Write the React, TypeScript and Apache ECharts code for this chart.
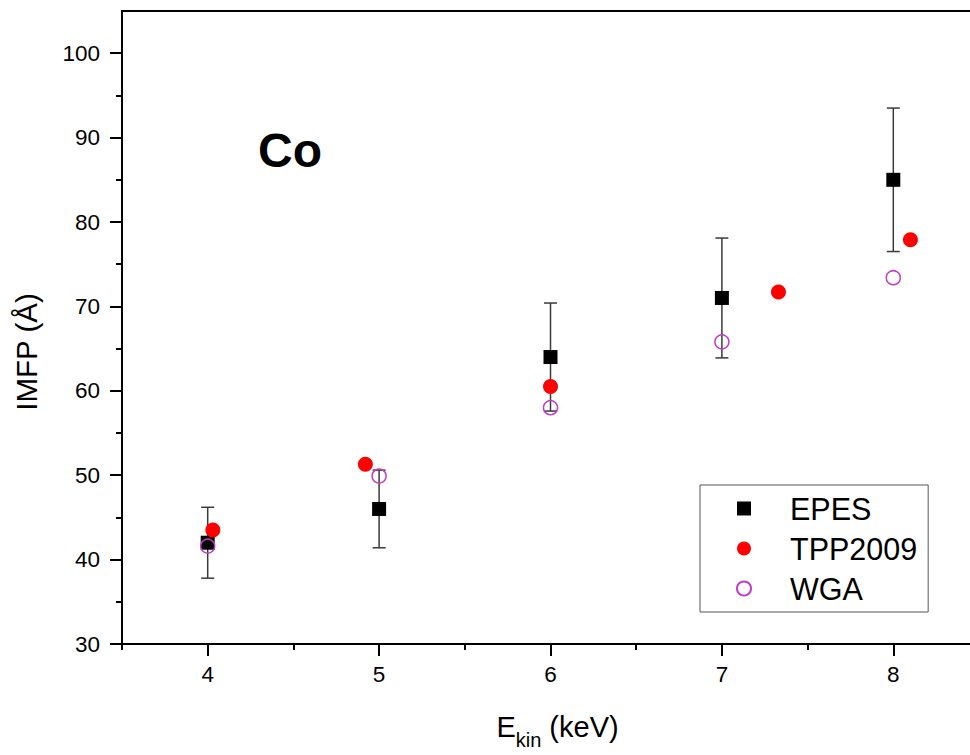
import React, { useEffect, useRef } from "react";
import * as echarts from "echarts";

const energies = [4, 5, 6, 7, 8];
const epesValues = [42, 46, 64, 71, 85];
const epesErrors = [4.2, 4.6, 6.4, 7.1, 8.5];
const tppEnergies = [4.03, 4.92, 6.0, 7.33, 8.1];
const tppValues = [43.5, 51.3, 60.5, 71.7, 77.9];
const wgaValues = [41.6, 49.9, 58.0, 65.8, 73.4];

const xMajorTicks = [4, 5, 6, 7, 8];
const xMinorTicks = [3.5, 4.5, 5.5, 6.5, 7.5, 8.5];
const yMajorTicks = [30, 40, 50, 60, 70, 80, 90, 100];
const yMinorTicks = [35, 45, 55, 65, 75, 85, 95];

const FONT = "'Liberation Sans', Arial, Helvetica, sans-serif";
const MAGENTA = "#c23bc8";

export default function App() {
  const ref = useRef<HTMLDivElement>(null);

  useEffect(() => {
    if (!ref.current) return;
    const chart = echarts.init(ref.current, undefined, { renderer: "svg" });

    const epesData = energies.map((e, i) => [e, epesValues[i]]);
    const tppData = tppEnergies.map((e, i) => [e, tppValues[i]]);
    const wgaData = energies.map((e, i) => [e, wgaValues[i]]);
    const errData = energies.map((e, i) => [
      e,
      epesValues[i] - epesErrors[i],
      epesValues[i] + epesErrors[i],
    ]);

    const option: any = {
      animation: false,
      backgroundColor: "#fff",
      textStyle: { fontFamily: FONT },
      grid: {
        left: 122,
        top: 11,
        right: 1,
        bottom: 109,
        show: true,
        borderColor: "#000",
        borderWidth: 2,
        backgroundColor: "transparent",
      },
      xAxis: [
        {
          type: "value",
          min: 3.5,
          max: 8.5,
          position: "bottom",
          axisLine: { show: true, lineStyle: { color: "#000", width: 2 } },
          axisTick: {
            show: true,
            inside: false,
            length: 12,
            customValues: xMajorTicks,
            lineStyle: { color: "#000", width: 2 },
          },
          axisLabel: {
            show: true,
            customValues: xMajorTicks,
            margin: 19,
            fontSize: 22.5,
            color: "#000",
            fontFamily: FONT,
          },
          splitLine: { show: false },
          name: "{m|E}{s|kin}{m| (keV)}",
          nameLocation: "middle",
          nameGap: 68,
          nameTextStyle: {
            padding: [0, 0, 0, 14],
            rich: {
              m: { fontSize: 29, fontFamily: FONT, color: "#000", verticalAlign: "bottom" },
              s: { fontSize: 20, fontFamily: FONT, color: "#000", verticalAlign: "bottom", padding: [0, 0, -9, 0] },
            },
          },
        },
        {
          type: "value",
          min: 3.5,
          max: 8.5,
          position: "bottom",
          axisLine: { show: false },
          axisTick: {
            show: true,
            inside: false,
            length: 6,
            customValues: xMinorTicks,
            lineStyle: { color: "#000", width: 2 },
          },
          axisLabel: { show: false },
          splitLine: { show: false },
        },
      ],
      yAxis: [
        {
          type: "value",
          min: 30,
          max: 105,
          position: "left",
          axisLine: { show: true, lineStyle: { color: "#000", width: 2 } },
          axisTick: {
            show: true,
            inside: false,
            length: 12,
            customValues: yMajorTicks,
            lineStyle: { color: "#000", width: 2 },
          },
          axisLabel: {
            show: true,
            customValues: yMajorTicks,
            margin: 22,
            fontSize: 22.5,
            color: "#000",
            fontFamily: FONT,
          },
          splitLine: { show: false },
        },
        {
          type: "value",
          min: 30,
          max: 105,
          position: "left",
          axisLine: { show: false },
          axisTick: {
            show: true,
            inside: false,
            length: 6,
            customValues: yMinorTicks,
            lineStyle: { color: "#000", width: 2 },
          },
          axisLabel: { show: false },
          splitLine: { show: false },
        },
      ],
      legend: {
        orient: "vertical",
        left: 700,
        top: 485,
        padding: [8, 11, 8, 36],
        itemWidth: 14,
        itemHeight: 14,
        itemGap: 9,
        borderColor: "#555",
        borderWidth: 1,
        backgroundColor: "#fff",
        textStyle: {
          fontSize: 30.5,
          lineHeight: 30.5,
          color: "#000",
          fontFamily: FONT,
          padding: [0, 0, 0, 34],
        },
        data: ["EPES", "TPP2009", "WGA"],
      },
      graphic: [
        {
          type: "text",
          left: 258,
          top: 126,
          style: {
            text: "Co",
            font: `bold 48px ${FONT}`,
            fill: "#000",
          },
        },
        {
          type: "text",
          x: 26,
          y: 352,
          rotation: Math.PI / 2,
          style: {
            text: "IMFP (Å)",
            font: `29.5px ${FONT}`,
            fill: "#000",
            align: "center",
            verticalAlign: "middle",
          },
        },
      ],
      series: [
        {
          name: "EPES error",
          type: "custom",
          xAxisIndex: 0,
          yAxisIndex: 0,
          data: errData,
          encode: { x: 0, y: [1, 2] },
          z: 1,
          renderItem: (params: any, api: any) => {
            const x = api.value(0);
            const lo = api.coord([x, api.value(1)]);
            const hi = api.coord([x, api.value(2)]);
            const w = 6.5;
            const style = { stroke: "#3a3a3a", lineWidth: 1.5 };
            return {
              type: "group",
              children: [
                { type: "line", shape: { x1: lo[0], y1: lo[1], x2: hi[0], y2: hi[1] }, style },
                { type: "line", shape: { x1: lo[0] - w, y1: lo[1], x2: lo[0] + w, y2: lo[1] }, style },
                { type: "line", shape: { x1: hi[0] - w, y1: hi[1], x2: hi[0] + w, y2: hi[1] }, style },
              ],
            };
          },
        },
        {
          name: "EPES",
          type: "scatter",
          xAxisIndex: 0,
          yAxisIndex: 0,
          symbol: "rect",
          symbolSize: 14,
          itemStyle: { color: "#000", opacity: 1 },
          data: epesData,
          z: 2,
        },
        {
          name: "TPP2009",
          type: "scatter",
          xAxisIndex: 0,
          yAxisIndex: 0,
          symbol: "circle",
          symbolSize: 15,
          itemStyle: { color: "#ff0000", opacity: 1 },
          data: tppData,
          z: 3,
        },
        {
          name: "WGA",
          type: "scatter",
          xAxisIndex: 0,
          yAxisIndex: 0,
          symbol: "circle",
          symbolSize: 14,
          itemStyle: {
            color: "rgba(255,255,255,0)",
            borderColor: MAGENTA,
            borderWidth: 1.5,
            opacity: 1,
          },
          data: wgaData,
          z: 4,
        },
      ],
    };

    chart.setOption(option);
    return () => chart.dispose();
  }, []);

  return (
    <div
      style={{
        position: "absolute",
        left: 0,
        top: 0,
        width: 970,
        height: 755,
        overflow: "hidden",
      }}
    >
      <div ref={ref} style={{ width: 980, height: 755 }} />
    </div>
  );
}
